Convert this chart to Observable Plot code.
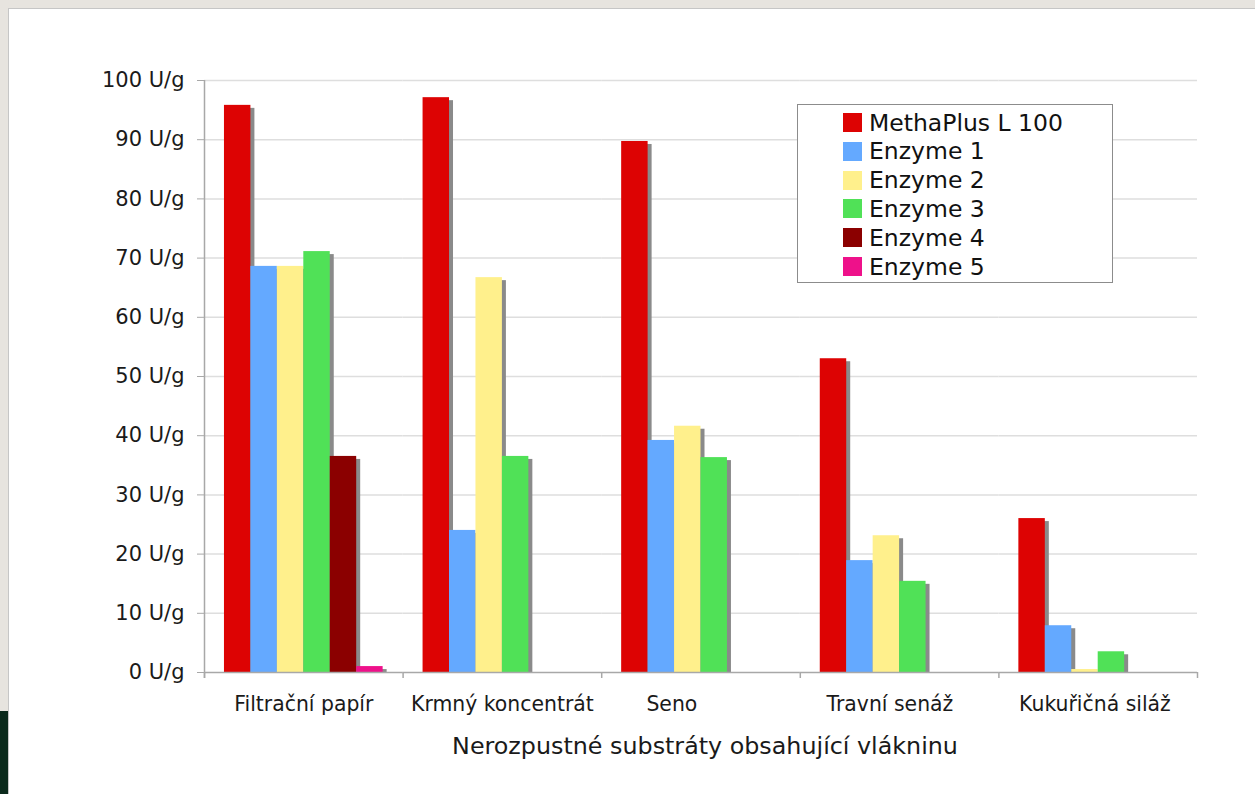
<!DOCTYPE html>
<html><head><meta charset="utf-8">
<script src="https://cdn.jsdelivr.net/npm/d3@7"></script>
<script src="https://cdn.jsdelivr.net/npm/@observablehq/plot@0.6"></script>
<style>
html,body{margin:0;background:#e7e4df}
body{width:1255px;height:794px;overflow:hidden;position:relative;font-family:"DejaVu Sans",Verdana,sans-serif}
#topband{position:absolute;left:0;top:0;right:0;height:8px;background:#e7e4df}
#panel{position:absolute;left:8px;top:8px;right:0;bottom:0;background:#fff;border-left:1.5px solid #c6c6c6;border-top:1.5px solid #c6c6c6}
#strip{position:absolute;left:0;top:711px;width:8px;bottom:0;background:#0b2a1c}
#chart{position:absolute;left:0;top:0}
#chart svg text{white-space:pre}
#legend{position:absolute;left:797px;top:104px;width:316px;height:179px;border:1px solid #8c8c8c;background:#fff;box-sizing:border-box}
.row{position:absolute;left:45px;height:29px;display:flex;align-items:center;font-size:23.5px;color:#111;white-space:nowrap}
.sw{width:19px;height:19px;margin-right:7px}
</style></head>
<body>
<div id="topband"></div>
<div id="panel"></div>
<div id="strip"></div>
<div id="chart"></div>
<div id="legend"></div>
<script>
// category labels as in the original (some carry trailing spaces)
const categories = ["Filtrační papír", "Krmný koncentrát", "Seno         ", "Travní senáž   ", "Kukuřičná siláž "];
const series = ["MethaPlus L 100", "Enzyme 1", "Enzyme 2", "Enzyme 3", "Enzyme 4", "Enzyme 5"];
const methaPlus = [95.8, 97.1, 89.7, 53.0, 26.0];
const enzyme1 = [68.6, 24.0, 39.2, 18.9, 7.9];
const enzyme2 = [68.6, 66.7, 41.6, 23.1, 0.5];
const enzyme3 = [71.1, 36.5, 36.3, 15.4, 3.5];
const enzyme4 = [36.5, null, null, null, null];
const enzyme5 = [1.0, null, null, null, null];
const yTicks = [0, 10, 20, 30, 40, 50, 60, 70, 80, 90, 100];
const colors = ["#dd0303", "#64a9ff", "#fff08c", "#50e157", "#8b0000", "#ee118a"];
const xTitle = "Nerozpustné substráty obsahující vlákninu";

const values = [methaPlus, enzyme1, enzyme2, enzyme3, enzyme4, enzyme5];
const table = [];
categories.forEach((c, i) => series.forEach((s, j) => {
  if (values[j][i] != null) table.push({category: c, series: s, value: values[j][i]});
}));

const W = 1255, H = 794, ml = 204, mr = 58, mt = 80, mb = 122;
const po = 0.755;
const facetW = (W - ml - mr) / categories.length;
const step = facetW / (series.length + 2 * po);
const edge = step * (0.5 + po);
const axisGray = "#a8a8a8";

const chart = Plot.plot({
  width: W, height: H,
  marginLeft: ml, marginRight: mr, marginTop: mt, marginBottom: mb,
  style: {background: "transparent", fontFamily: "DejaVu Sans, Verdana, sans-serif", color: "#1a1a1a"},
  fx: {domain: categories, padding: 0, round: false, label: null},
  x: {domain: series, paddingInner: 0, paddingOuter: po, round: false, axis: null},
  y: {domain: [0, 100], axis: null, label: null},
  color: {domain: series, range: colors},
  marks: [
    Plot.ruleY(yTicks.slice(1), {stroke: "#dedede", strokeWidth: 1.5}),
    Plot.axisY({ticks: yTicks, tickFormat: d => `${d} U/g`, tickSize: 7, tickPadding: 13, stroke: axisGray, fill: "#1a1a1a", fontSize: 21, label: null}),
    Plot.axisFx({anchor: "bottom", tickSize: 0, tickPadding: 24, fontSize: 20.4, fill: "#1a1a1a", label: null, tickFormat: d => d}),
    Plot.text([xTitle], {text: d => d, frameAnchor: "bottom", dx: 4, dy: 81, facet: "super", fontSize: 23.8, fill: "#1a1a1a"}),
    Plot.barY(table, {fx: "category", x: "series", y: "value", fill: "#8a8a8a", dx: 4, dy: 3, insetBottom: 3}),
    Plot.barY(table, {fx: "category", x: "series", y: "value", fill: "series"}),
    Plot.ruleY([0], {stroke: axisGray, strokeWidth: 1.5}),
    Plot.ruleX(categories, {fx: d => d, x: () => series[0], dx: -edge, y1: 0, y2: 0, insetBottom: -6, stroke: axisGray, strokeWidth: 1.5}),
    Plot.ruleX(categories.slice(-1), {fx: d => d, x: () => series[series.length - 1], dx: edge, y1: 0, y2: 0, insetBottom: -6, stroke: axisGray, strokeWidth: 1.5}),
    Plot.ruleX(categories.slice(0, 1), {fx: d => d, x: () => series[0], dx: -edge, y1: 100, y2: 0, insetBottom: -6, stroke: axisGray, strokeWidth: 1.5})
  ]
});
document.getElementById("chart").appendChild(chart);

const legend = document.getElementById("legend");
series.forEach((s, i) => {
  const row = document.createElement("div");
  row.className = "row";
  row.style.top = (3 + i * 28.8) + "px";
  const sw = document.createElement("div");
  sw.className = "sw";
  sw.style.background = colors[i];
  row.appendChild(sw);
  row.appendChild(document.createTextNode(s));
  legend.appendChild(row);
});
</script>
</body></html>
